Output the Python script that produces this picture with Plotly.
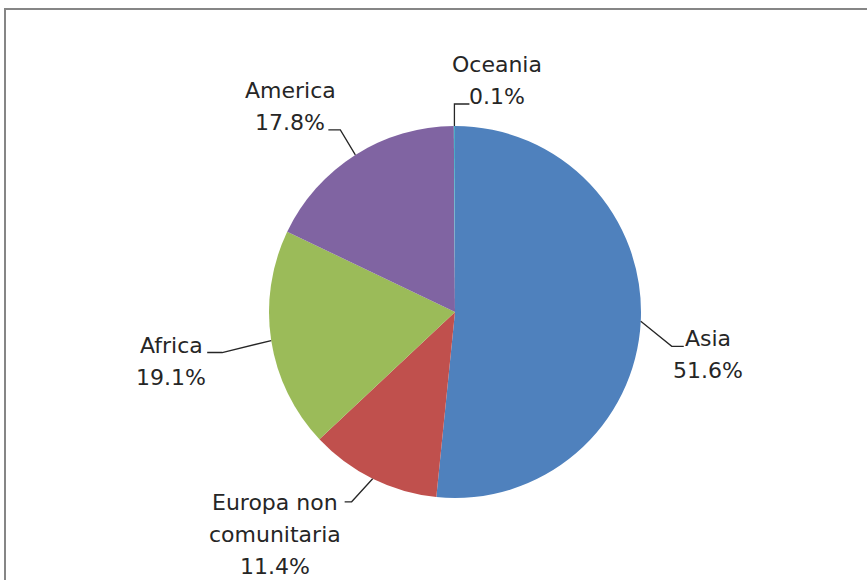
import numpy as np
import plotly.graph_objects as go

W, H = 867, 580

# data
regions = ["Asia", "Europa non comunitaria", "Africa", "America", "Oceania"]
label_lines = [["Asia"], ["Europa non", "comunitaria"], ["Africa"], ["America"], ["Oceania"]]
shares = [51.6, 11.4, 19.1, 17.8, 0.1]
colors = ["#4F81BD", "#C0504D", "#9BBB59", "#8064A2", "#4BACC6"]

# pie geometry in pixels
CX, CY, R = 455, 312, 186
LINE_GAP = 32
FONT = dict(family="DejaVu Sans", size=22, color="#262626")

# leader/label placement in pixels, relative to the slice's mid-angle point on the rim
leaders = {
    "Asia": dict(elbow=(31, 25), end=(43, 25), text=(67, 17)),
    "Europa non comunitaria": dict(elbow=(-21, 23), end=(-28, 23), text=(-98, 24)),
    "Africa": dict(elbow=(-49, 12), end=(-64, 12), text=(-100, 5)),
    "America": dict(elbow=(-15, -25), end=(-27, -25), text=(-65, -64)),
    "Oceania": dict(elbow=(0, -22), end=(15, -22), text=(43, -62)),
}


def px(x, y):
    return x / W, 1 - y / H


fig = go.Figure(go.Pie(
    labels=regions,
    values=shares,
    sort=False,
    direction="clockwise",
    rotation=0,
    marker=dict(colors=colors, line=dict(width=0)),
    textinfo="none",
    hoverinfo="label+percent",
    showlegend=False,
    domain=dict(x=[(CX - R) / W, (CX + R) / W], y=[1 - (CY + R) / H, 1 - (CY - R) / H]),
))

vals = np.array(shares, dtype=float)
frac = vals / vals.sum()
mids = (np.cumsum(frac) - frac / 2) * 2 * np.pi

shapes = []
annotations = []
for name, lines, v, a in zip(regions, label_lines, shares, mids):
    ex, ey = CX + R * np.sin(a), CY - R * np.cos(a)
    g = leaders[name]
    pts = [(ex, ey), (ex + g["elbow"][0], ey + g["elbow"][1]), (ex + g["end"][0], ey + g["end"][1])]
    pp = [px(*p) for p in pts]
    path = "M {} {} L {} {} L {} {}".format(*[c for p in pp for c in p])
    shapes.append(dict(type="path", xref="paper", yref="paper", path=path,
                       line=dict(color="#262626", width=1.3)))
    tx, ty = ex + g["text"][0], ey + g["text"][1]
    for i, t in enumerate(lines + [f"{v:.1f}%"]):
        x, y = px(tx, ty + i * LINE_GAP)
        annotations.append(dict(x=x, y=y, xref="paper", yref="paper", text=t,
                                showarrow=False, xanchor="center", yanchor="middle", font=FONT))

# chart border
shapes.append(dict(type="rect", xref="paper", yref="paper",
                   x0=5 / W, y0=-0.05, x1=1.05, y1=1 - 9 / H,
                   line=dict(color="#868686", width=2)))

fig.update_layout(
    width=W, height=H,
    margin=dict(l=0, r=0, t=0, b=0),
    paper_bgcolor="white",
    plot_bgcolor="white",
    shapes=shapes,
    annotations=annotations,
)

fig.write_html("out.html", config={"displayModeBar": False},
               post_script="document.body.style.margin='0';")
